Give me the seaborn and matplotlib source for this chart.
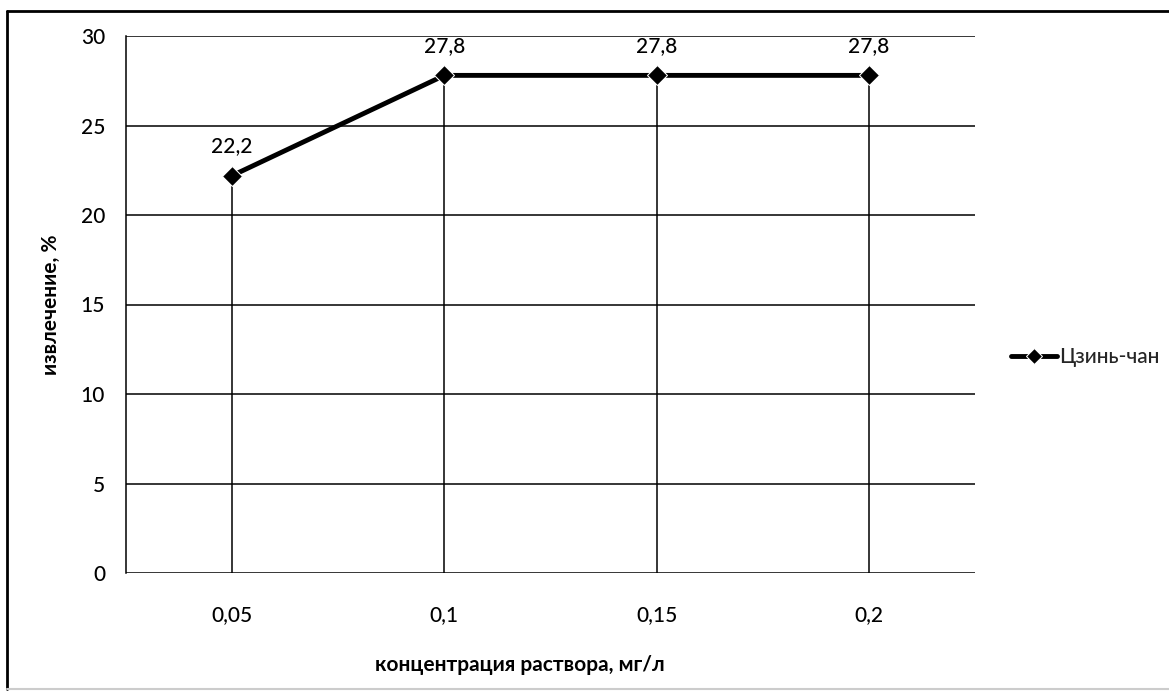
import matplotlib
matplotlib.use("Agg")
import matplotlib.pyplot as plt
from matplotlib.lines import Line2D
import seaborn as sns
import pandas as pd

# Extraction vs. solution concentration
concentrations = ["0,05", "0,1", "0,15", "0,2"]
extraction = [22.2, 27.8, 27.8, 27.8]
value_labels = ["22,2", "27,8", "27,8", "27,8"]
series_name = "Цзинь-чан"
y_ticks = [0, 5, 10, 15, 20, 25, 30]
x_title = "концентрация раствора, мг/л"
y_title = "извлечение, %"

sns.set_theme(style="white")
plt.rcParams["font.family"] = ["Lato", "DejaVu Sans"]

W, H = 1169, 692

df = pd.DataFrame({
    "pos": list(range(len(concentrations))),
    "conc": concentrations,
    "value": extraction,
    "series": series_name,
})

fig = plt.figure(figsize=(W / 100, H / 100), dpi=100)
ax = fig.add_axes([126 / W, 1 - 573 / H, (975 - 126) / W, (573 - 36) / H])

# horizontal gridlines
for t in y_ticks:
    ax.axhline(t, color="black", lw=1.1, zorder=1)

# drop lines from each point to the axis
ax.vlines(df["pos"], 0, df["value"], color="black", lw=1.1, zorder=1)

sns.lineplot(data=df, x="pos", y="value", hue="series", palette=["black"],
             marker="D", markersize=10, linewidth=3.5, ax=ax, zorder=3,
             legend=True)

for x, y, s in zip(df["pos"], df["value"], value_labels):
    ax.annotate(s, (x, y), xytext=(0, 14), textcoords="offset points",
                ha="center", va="bottom", fontsize=15, color="black",
                fontweight="medium")

ax.set_xlim(-0.5, len(concentrations) - 0.5)
ax.set_ylim(0, 30)
ax.set_xticks(df["pos"])
ax.set_xticklabels(concentrations, fontweight="medium")
ax.set_yticks(y_ticks)
ax.set_yticklabels([str(t) for t in y_ticks], fontweight="medium")
ax.tick_params(axis="both", length=0, labelsize=15, colors="black")
ax.tick_params(axis="x", pad=23)
ax.tick_params(axis="y", pad=15)

for side in ["top", "right", "bottom"]:
    ax.spines[side].set_visible(False)
ax.spines["left"].set_color("black")
ax.spines["left"].set_linewidth(1.1)

ax.set_xlabel("")
ax.set_ylabel("")
fig.text(520 / W, 1 - 665 / H, x_title, ha="center", va="center",
         fontsize=15, fontweight="bold", color="black")
fig.text(51 / W, 1 - 305 / H, y_title, ha="center", va="center",
         rotation=90, fontsize=15, fontweight="bold", color="black")

leg = ax.legend(loc="center left", bbox_to_anchor=(1.025, 0.402), frameon=False,
                prop={"size": 15, "weight": "medium"}, handlelength=2.2,
                handletextpad=0.1, borderaxespad=0.3, markerscale=0.8)

# outer chart frame
fig.add_artist(Line2D([7 / W, 1.0], [1 - 11 / H, 1 - 11 / H],
                      transform=fig.transFigure, color="black", lw=2))
fig.add_artist(Line2D([7 / W, 7 / W], [1 - 11 / H, 1 - 689 / H],
                      transform=fig.transFigure, color="black", lw=2))
fig.add_artist(Line2D([7 / W, 1.0], [1 - 689 / H, 1 - 689 / H],
                      transform=fig.transFigure, color="#cccccc", lw=1.5))

fig.savefig("out.png", dpi=100)
